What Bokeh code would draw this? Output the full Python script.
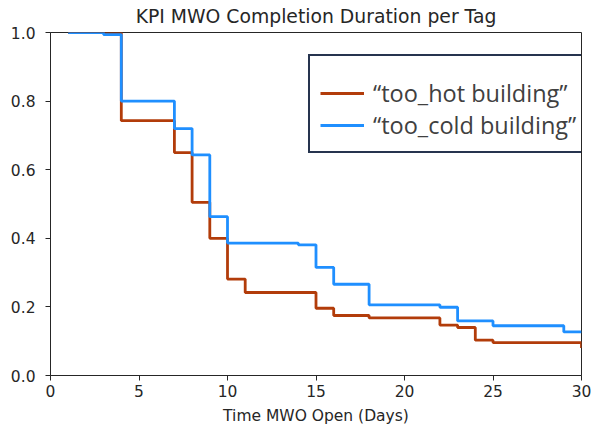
from bokeh.plotting import figure
from bokeh.models import Legend, LegendItem, Range1d, FixedTicker, Title
from bokeh.embed import file_html
from bokeh.resources import INLINE

# ---- data ----
hot_days = [1, 4, 7, 8, 9, 10, 11, 15, 16, 18, 22, 23, 24, 25, 30]
hot_frac = [1.0, 0.743, 0.65, 0.505, 0.40, 0.281, 0.242, 0.196, 0.175, 0.168,
            0.147, 0.14, 0.103, 0.096, 0.08]
cold_days = [1, 3, 4, 7, 8, 9, 10, 14, 15, 16, 18, 22, 23, 25, 29, 30]
cold_frac = [1.0, 0.994, 0.80, 0.72, 0.643, 0.463, 0.386, 0.381, 0.315, 0.266,
             0.206, 0.199, 0.159, 0.145, 0.127, 0.127]
x_ticks = [0, 5, 10, 15, 20, 25, 30]
y_ticks = [0.0, 0.2, 0.4, 0.6, 0.8, 1.0]
hot_label = "\u201ctoo_hot building\u201d"
cold_label = "\u201ctoo_cold building\u201d"

HOT = "#b23c0a"
COLD = "#1f8fff"
INK = "#262626"

p = figure(width=592, height=428, output_backend="svg", toolbar_location=None,
           x_range=Range1d(0, 30), y_range=Range1d(0, 1.0),
           min_border_left=50, min_border_right=11, min_border_top=32,
           min_border_bottom=53)

p.title = Title(text="KPI MWO Completion Duration per Tag", align="center",
                vertical_align="top",
                text_font="DejaVu Sans", text_font_size="18.8px",
                text_font_style="normal", text_color=INK, standoff=8)

p.xgrid.visible = False
p.ygrid.visible = False
p.outline_line_color = INK
p.outline_line_width = 1
p.background_fill_color = "white"
p.border_fill_color = "white"

for ax in (p.xaxis[0], p.yaxis[0]):
    ax.axis_line_color = INK
    ax.major_tick_line_color = INK
    ax.major_tick_out = 5
    ax.major_tick_in = 0
    ax.minor_tick_line_color = None
    ax.major_label_text_font = "DejaVu Sans"
    ax.major_label_text_font_size = "15.5px"
    ax.major_label_text_color = INK

p.xaxis.ticker = FixedTicker(ticks=x_ticks)
p.yaxis.ticker = FixedTicker(ticks=y_ticks)
p.yaxis.major_label_overrides = {t: f"{t:.1f}" for t in y_ticks}
p.xaxis.major_label_standoff = 4
p.yaxis.major_label_standoff = 10
p.xaxis.axis_label = "Time MWO Open (Days)"
p.xaxis.axis_label_text_font = "DejaVu Sans"
p.xaxis.axis_label_text_font_size = "15.5px"
p.xaxis.axis_label_text_font_style = "normal"
p.xaxis.axis_label_text_color = INK
p.xaxis.axis_label_standoff = 7

r_hot = p.step(hot_days, hot_frac, mode="after", line_color=HOT, line_width=2.8)
r_cold = p.step(cold_days, cold_frac, mode="after", line_color=COLD, line_width=2.8)

legend = Legend(items=[LegendItem(label=hot_label, renderers=[r_hot]),
                       LegendItem(label=cold_label, renderers=[r_cold])],
                location=(258, 222))
legend.title = " "
legend.title_text_font_size = "10px"
legend.title_standoff = 0
legend.label_text_font = "Open Sans"
legend.label_text_font_size = "23.5px"
legend.label_text_color = "#404040"
legend.glyph_width = 44
legend.glyph_height = 32
legend.label_height = 32
legend.label_standoff = 9
legend.spacing = 0
legend.padding = 10
legend.margin = 0
legend.border_line_color = "#26344f"
legend.border_line_width = 2
legend.border_line_alpha = 1.0
legend.background_fill_color = "white"
legend.background_fill_alpha = 1.0
p.add_layout(legend)

open("out.html", "w").write(file_html(p, INLINE))
